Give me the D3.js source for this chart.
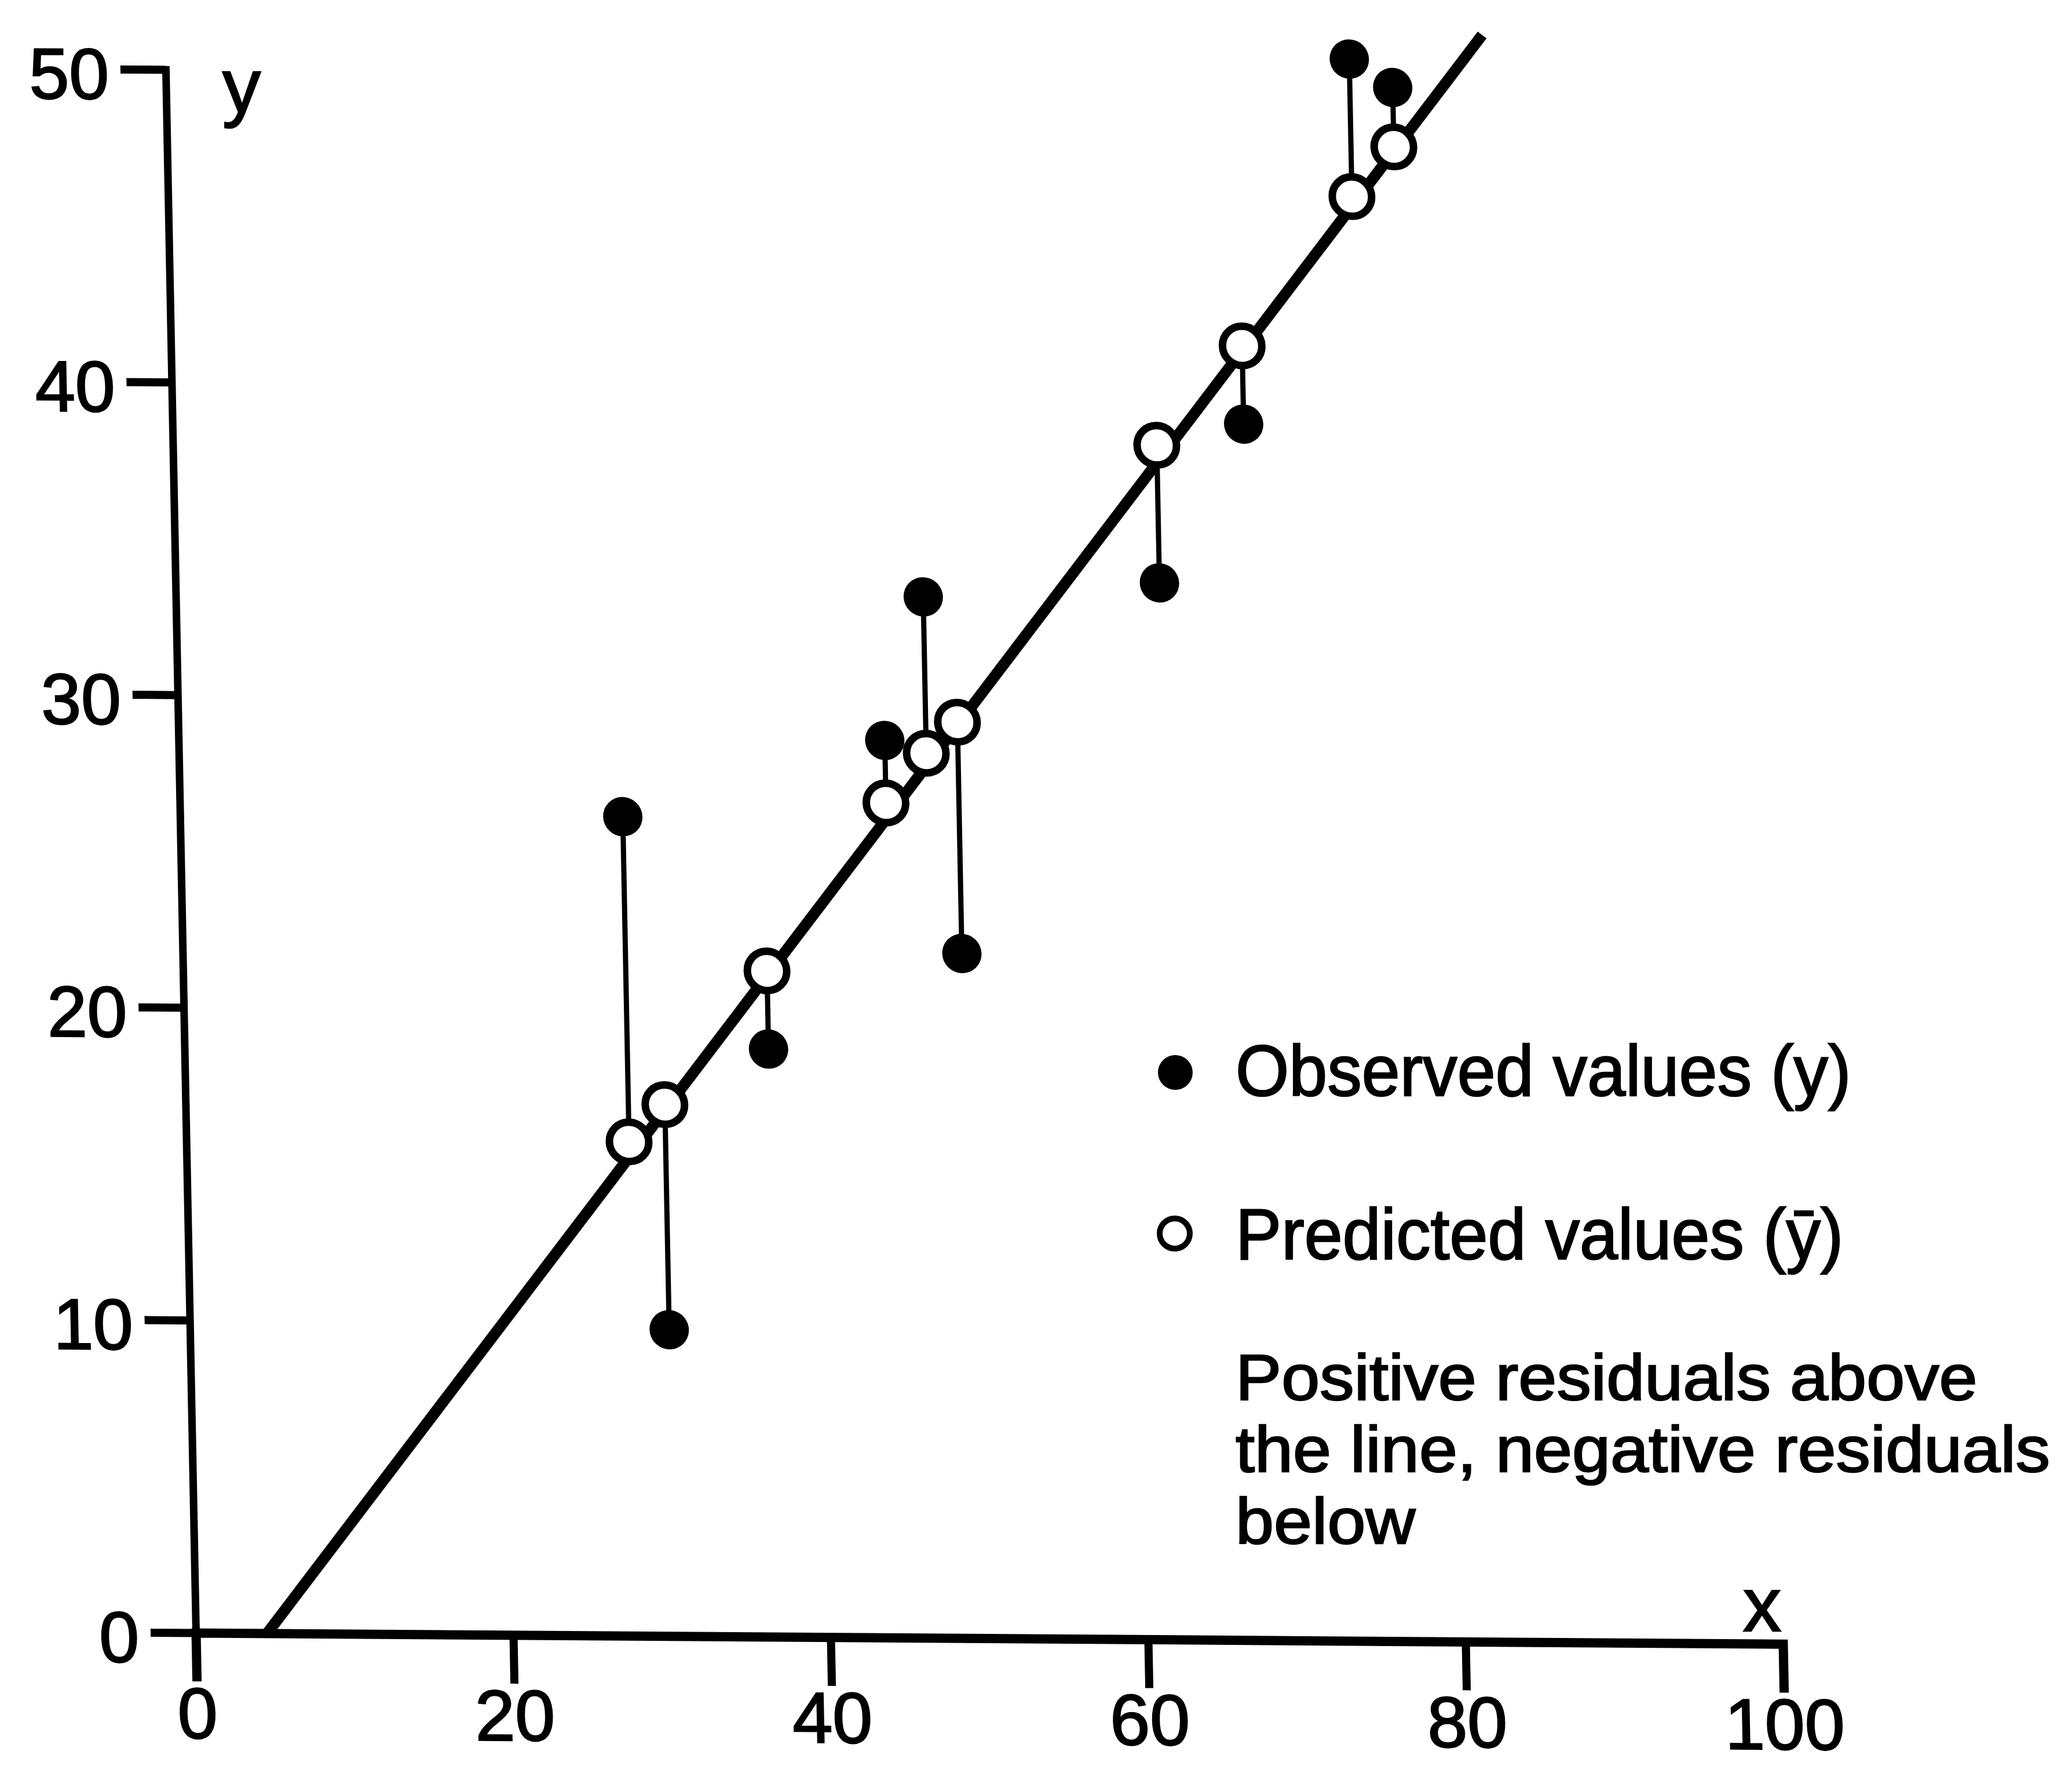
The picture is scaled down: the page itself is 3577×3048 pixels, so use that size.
<!DOCTYPE html>
<html>
<head>
<meta charset="utf-8">
<script src="https://cdn.jsdelivr.net/npm/d3@7"></script>
<style>
  html, body { margin: 0; padding: 0; background: #fff; }
  svg { display: block; }
</style>
</head>
<body>
<svg id="chart"></svg>
<script>
// Observations: x, observed y, and the fitted value on the regression line
const xValues   = [27.9, 30.2, 36.8, 44.5, 47.1, 49.1, 62.0, 67.5, 74.6, 77.3];
const observed  = [26.2,  9.8, 18.8, 28.7, 33.3, 21.9, 33.8, 38.9, 50.6, 49.7];
const predicted = [15.8, 17.0, 21.3, 26.7, 28.3, 29.3, 38.2, 41.4, 46.2, 47.8];

// End points of the fitted regression line
const fitX = [4.5, 83.0];
const fitY = [0, 51.4];

const xTicks = [0, 20, 40, 60, 80, 100];
const yTicks = [0, 10, 20, 30, 40, 50];

const legendLabels = ["Observed values (y)", "Predicted values (\u0233)"];
const noteLines = ["Positive residuals above", "the line, negative residuals", "below"];

const W = 3577, H = 3048;
const FONT = "'Liberation Sans', Arial, Helvetica, sans-serif";
const TEXT_WEIGHT = 2.5; // extra outline to give the type a heavier, printed look

const svg = d3.select("#chart").attr("width", W).attr("height", H);
svg.append("rect").attr("width", W).attr("height", H).attr("fill", "#fff");

const x = d3.scaleLinear().domain([0, 100]).range([338, 3078]);
const y = d3.scaleLinear().domain([0, 50]).range([2818, 120]);

// The plot frame is drawn with a slight shear (axes not quite square)
const kx = 0.0193, ky = 0.007;
const plot = svg.append("g")
  .attr("transform", `matrix(1,${ky},${kx},1,${-kx * y(0)},${-ky * x(0)})`);

function styleText(sel) {
  sel.attr("fill", "#000").attr("stroke", "#000").attr("stroke-width", TEXT_WEIGHT);
}

// Axes
const yAxis = d3.axisLeft(y).tickValues(yTicks)
  .tickSize(78).tickSizeOuter(78).tickPadding(20).tickFormat(d3.format("d"));
const gy = plot.append("g").attr("transform", `translate(${x(0)},0)`).call(yAxis);
gy.attr("font-family", FONT).attr("font-size", 124);
gy.select(".domain").attr("stroke", "#000").attr("stroke-width", 13)
  .attr("stroke-linejoin", "miter").attr("fill", "none");
gy.selectAll(".tick line").attr("stroke", "#000").attr("stroke-width", 14);
gy.selectAll(".tick text").attr("dy", "0.41em").call(styleText);

const xAxis = d3.axisBottom(x).tickValues(xTicks)
  .tickSize(84).tickSizeOuter(84).tickPadding(10).tickFormat(d3.format("d"));
const gx = plot.append("g").attr("transform", `translate(0,${y(0)})`).call(xAxis);
gx.attr("font-family", FONT).attr("font-size", 124);
gx.select(".domain").attr("stroke", "#000").attr("stroke-width", 16)
  .attr("stroke-linejoin", "miter").attr("fill", "none");
gx.selectAll(".tick line").attr("stroke", "#000").attr("stroke-width", 14);
gx.selectAll(".tick text").call(styleText);

// Regression line
const fitLine = d3.line().x(d => x(d[0])).y(d => y(d[1]));
plot.append("path")
  .datum(d3.zip(fitX, fitY))
  .attr("d", fitLine)
  .attr("fill", "none")
  .attr("stroke", "#000")
  .attr("stroke-width", 19)
  .attr("stroke-linecap", "butt");

const points = xValues.map((xv, i) => ({ x: xv, obs: observed[i], pred: predicted[i] }));

// Residuals
plot.append("g").selectAll("line").data(points).join("line")
  .attr("x1", d => x(d.x)).attr("y1", d => y(d.obs))
  .attr("x2", d => x(d.x)).attr("y2", d => y(d.pred))
  .attr("stroke", "#000").attr("stroke-width", 9);

// Observed values
plot.append("g").selectAll("circle").data(points).join("circle")
  .attr("cx", d => x(d.x)).attr("cy", d => y(d.obs)).attr("r", 34)
  .attr("fill", "#000");

// Predicted values
plot.append("g").selectAll("circle").data(points).join("circle")
  .attr("cx", d => x(d.x)).attr("cy", d => y(d.pred)).attr("r", 34)
  .attr("fill", "#fff").attr("stroke", "#000").attr("stroke-width", 13);

// Axis titles
svg.append("text").text("y")
  .attr("x", 417).attr("y", 194).attr("text-anchor", "middle")
  .attr("font-family", FONT).attr("font-size", 132).call(styleText);
svg.append("text").text("x")
  .attr("x", 3042).attr("y", 2815).attr("text-anchor", "middle")
  .attr("font-family", FONT).attr("font-size", 132).call(styleText);

// Legend
const legend = svg.append("g");
legend.append("circle").attr("cx", 2029).attr("cy", 1851).attr("r", 30).attr("fill", "#000");
legend.append("circle").attr("cx", 2028).attr("cy", 2129).attr("r", 26)
  .attr("fill", "#fff").attr("stroke", "#000").attr("stroke-width", 10);

// Legend keys, set slightly narrow
const keyText = legend.append("g")
  .attr("transform", "translate(2133,0) scale(0.95,1)")
  .attr("font-family", FONT).attr("font-size", 125);
keyText.selectAll("text").data(legendLabels).join("text")
  .attr("x", 0)
  .attr("y", (d, i) => 1891 + i * 282)
  .text(d => d)
  .call(styleText);

// Explanatory note, tightly leaded
const noteText = legend.append("g")
  .attr("transform", "translate(2133,0) scale(1.07,1)")
  .attr("font-family", FONT).attr("font-size", 111);
noteText.selectAll("text").data(noteLines).join("text")
  .attr("x", 0)
  .attr("y", (d, i) => 2416 + i * 124)
  .text(d => d)
  .call(styleText);
</script>
</body>
</html>
